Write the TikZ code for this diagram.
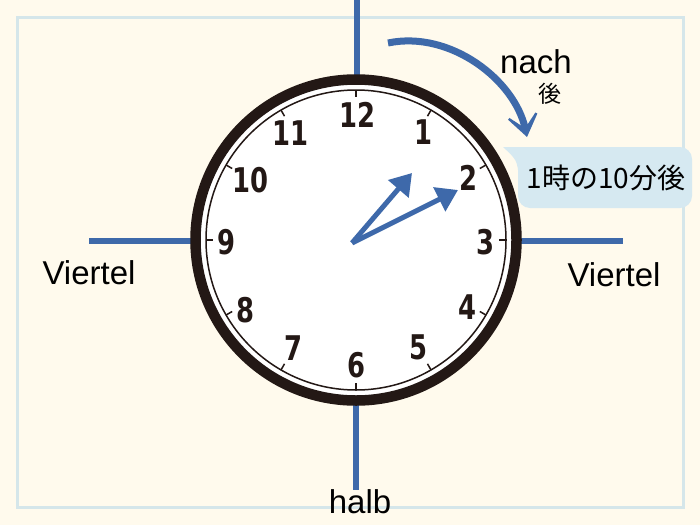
\documentclass[tikz,border=0pt]{standalone}
\usepackage{fontspec}
\setmainfont{Liberation Sans}
\newfontfamily\clockfont[FakeStretch=0.76]{DejaVu Sans}
\newfontfamily\cjk{Noto Sans CJK JP}
\usetikzlibrary{arrows.meta,calc}
\definecolor{bg}{RGB}{255,250,237}
\definecolor{frame}{RGB}{213,230,234}
\definecolor{blu}{RGB}{62,105,170}
\definecolor{ink}{RGB}{35,24,21}
\definecolor{bubble}{RGB}{214,233,241}
\tikzset{
  axisline/.style={draw=blu, line width=6pt},
  num/.style={font=\clockfont\bfseries\fontsize{34}{34}\selectfont, text=ink, inner sep=0pt},
  lbl/.style={font=\fontsize{33}{33}\selectfont, text=black, inner sep=0pt},
  hand/.style={draw=blu, line width=5pt, -{Triangle[length=21pt,width=26pt]}},
  tick/.style={draw=ink, line width=1.5pt},
}
\begin{document}
\begin{tikzpicture}[x=1pt,y=-1pt]
\useasboundingbox (0,0) rectangle (700,525);
\fill[bg] (0,0) rectangle (700,525);
\draw[frame, line width=3pt] (17,17) rectangle (683,507);
% axis lines
\coordinate (topA) at (357,0);
\coordinate (topB) at (357,80);
\coordinate (botA) at (356,400);
\coordinate (botB) at (356,490);
\coordinate (lefA) at (89,241);
\coordinate (lefB) at (195,241);
\coordinate (rigA) at (517,241);
\coordinate (rigB) at (623,241);
\draw[axisline] (topA) -- (topB);
\draw[axisline] (botA) -- (botB);
\draw[axisline] (lefA) -- (lefB);
\draw[axisline] (rigA) -- (rigB);
% clock
\coordinate (c) at (356,240);
\fill[white] (c) circle[radius=165];
\draw[ink, line width=10.5pt] (c) circle[radius=160.5];
\draw[ink, line width=1.5pt] (c) circle[radius=150];
\foreach \i in {0,...,11}{
  \draw[tick] ($(c)+({150*sin(30*\i)},{-150*cos(30*\i)})$) -- ($(c)+({143*sin(30*\i)},{-143*cos(30*\i)})$);
}
\node[num] (n12) at (357,115) {12};
\node[num] (n1) at (423,132) {1};
\node[num] (n2) at (468,178) {2};
\node[num] (n3) at (485,242) {3};
\node[num] (n4) at (467,307) {4};
\node[num] (n5) at (418,347) {5};
\node[num] (n6) at (356,365) {6};
\node[num] (n7) at (293,348) {7};
\node[num] (n8) at (245,310) {8};
\node[num] (n9) at (226,242) {9};
\node[num] (n10) at (250,180) {10};
\node[num] (n11) at (290,133) {11};
% hands
\coordinate (hc) at (352,243);
\coordinate (hh) at (412,173);
\coordinate (mh) at (458,190);
\draw[hand] (hc) -- (hh);
\draw[hand] (hc) -- (mh);
% labels
\node[lbl] (vl) at (89,273) {Viertel};
\node[lbl] (vr) at (614,275) {Viertel};
\node[lbl] (halb) at (360,502) {halb};
\node[lbl] (nach) at (536,62) {nach};
\node[font=\cjk\fontsize{23}{23}\selectfont, inner sep=0pt] (go) at (550,94) {後};
% curved arrow
\coordinate (as) at (388,43);
\coordinate (ae) at (527,137);
\draw[blu, line width=7pt, -{Stealth[length=32pt,width=46pt,inset=23pt]}] (as) .. controls (450,30) and (515,80) .. (ae);
% bubble
\fill[bubble, rounded corners=12pt] (518,147) rectangle (692,208);
\fill[bubble] (503,147) -- (535,147) -- (519,178) .. controls (517,160) .. (503,147) -- cycle;
\node[font=\cjk\fontsize{28}{28}\selectfont, inner sep=0pt] (bt) at (606,178) {1時の10分後};
\end{tikzpicture}
\end{document}
